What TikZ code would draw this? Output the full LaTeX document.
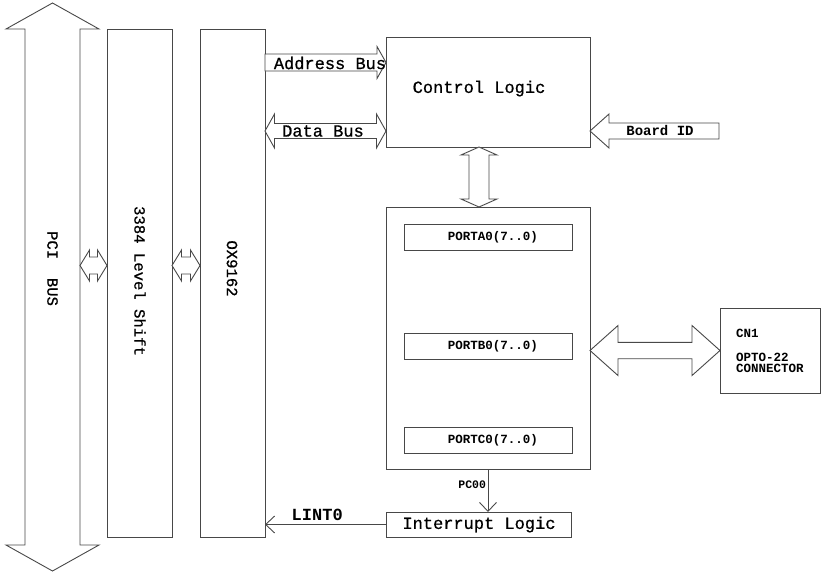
\documentclass[tikz,border=0pt]{standalone}
\usepackage{fontspec}
\setmainfont{Liberation Mono}
\newfontfamily\medfont[FakeBold=0.8]{Liberation Mono}
\usetikzlibrary{arrows.meta,calc}
\definecolor{linegray}{HTML}{484848}

\begin{document}
\begin{tikzpicture}[x=1pt,y=-1pt,
  box/.style={draw=linegray,line width=0.9pt,inner sep=0pt,outer sep=0pt},
  fat/.style={draw=linegray,line width=0.9pt,fill=white,line join=miter},
  fshaft/.store in=\fshaft, fhead/.store in=\fhead, flen/.store in=\flen,
  dblarr/.style={to path={
    (\tikztostart)
    -- ($(\tikztostart)!\flen!(\tikztotarget)!\fhead!90:(\tikztotarget)$)
    -- ($(\tikztostart)!\flen!(\tikztotarget)!\fshaft!90:(\tikztotarget)$)
    -- ($(\tikztotarget)!\flen!(\tikztostart)!\fshaft!-90:(\tikztostart)$)
    -- ($(\tikztotarget)!\flen!(\tikztostart)!\fhead!-90:(\tikztostart)$)
    -- (\tikztotarget)
    -- ($(\tikztotarget)!\flen!(\tikztostart)!\fhead!90:(\tikztostart)$)
    -- ($(\tikztotarget)!\flen!(\tikztostart)!\fshaft!90:(\tikztostart)$)
    -- ($(\tikztostart)!\flen!(\tikztotarget)!\fshaft!-90:(\tikztotarget)$)
    -- ($(\tikztostart)!\flen!(\tikztotarget)!\fhead!-90:(\tikztotarget)$)
    -- cycle}},
  onearr/.style={to path={
    ($(\tikztostart)!\fshaft!90:(\tikztotarget)$)
    -- ($(\tikztotarget)!\flen!(\tikztostart)!\fshaft!-90:(\tikztostart)$)
    -- ($(\tikztotarget)!\flen!(\tikztostart)!\fhead!-90:(\tikztostart)$)
    -- (\tikztotarget)
    -- ($(\tikztotarget)!\flen!(\tikztostart)!\fhead!90:(\tikztostart)$)
    -- ($(\tikztotarget)!\flen!(\tikztostart)!\fshaft!90:(\tikztostart)$)
    -- ($(\tikztostart)!\fshaft!-90:(\tikztotarget)$)
    -- cycle}},
  arr/.style={-{Straight Barb[length=9pt,width=17pt]},draw=linegray,line width=0.9pt},
  bigtxt/.style={font=\medfont\fontsize{17}{20}\selectfont},
  vtxt/.style={font=\medfont\fontsize{15.6}{18}\selectfont,rotate=-90},
  smalltxt/.style={font=\fontsize{12.5}{11}\selectfont\bfseries}
]
  \useasboundingbox (0,0) rectangle (823,574);

  % ---- Bus columns -------------------------------------------
  \node[box,minimum width=65pt,minimum height=508pt] (lvl) at (139.5,283) {};
  \node[box,minimum width=65pt,minimum height=508pt] (ox) at (232.5,283) {};

  % PCI bus arrow
  \coordinate (pcitop) at (52.5,3);
  \coordinate (pcibot) at (52.5,571);
  \draw[fat,dblarr,fshaft=27.5pt,fhead=46.5pt,flen=26pt] (pcitop) to (pcibot);

  % links between the columns
  \coordinate (s1L) at (80,265.5);
  \coordinate (s1R) at (lvl.west |- s1L);
  \coordinate (s2L) at (lvl.east |- s1L);
  \coordinate (s2R) at (ox.west |- s1L);
  \draw[fat,dblarr,fshaft=8.5pt,fhead=15.5pt,flen=9.5pt] (s1L) to (s1R);
  \draw[fat,dblarr,fshaft=8.5pt,fhead=15.5pt,flen=9.5pt] (s2L) to (s2R);

  \node[vtxt] (pcitxt) at (52.5,268.5) {PCI\ \ BUS};
  \node[vtxt] (lvltxt) at (140,281) {3384 Level Shift};
  \node[vtxt] (oxtxt) at (232,268.5) {OX9162};

  % ---- Control logic and ports -------------------------------
  \node[box,minimum width=204pt,minimum height=110pt] (ctrl) at (488,92) {};
  \node[bigtxt] (ctrltxt) at (479,88.5) {Control Logic};

  \node[box,minimum width=204pt,minimum height=262pt] (ports) at (488,338) {};
  \node[box,smalltxt,minimum width=168pt,minimum height=26pt] (pa) at (488,237) {\hspace*{10pt}PORTA0(7..0)};
  \node[box,smalltxt,minimum width=168pt,minimum height=26pt] (pb) at (488,346) {\hspace*{10pt}PORTB0(7..0)};
  \node[box,smalltxt,minimum width=168pt,minimum height=26pt] (pc) at (488,440) {\hspace*{10pt}PORTC0(7..0)};

  \node[box,smalltxt,minimum width=100pt,minimum height=85pt,align=left] (cn) at (770,350.5)
    {CN1\\[13pt]OPTO-22\\CONNECTOR};

  \node[box,bigtxt,minimum width=185pt,minimum height=25pt] (intr) at (479,524.5) {Interrupt Logic};

  % ---- Buses -------------------------------------------------
  % Address bus
  \coordinate (abL) at (ox.east |- 0,62.5);
  \coordinate (abR) at (ctrl.west |- abL);
  \draw[fat,onearr,fshaft=8.5pt,fhead=16pt,flen=9pt] (abL) to (abR);
  \node[bigtxt] (abtxt) at (330,63) {Address Bus};

  % Data bus
  \coordinate (dbL) at (ox.east |- 0,131);
  \coordinate (dbR) at (ctrl.west |- dbL);
  \draw[fat,dblarr,fshaft=7.5pt,fhead=17pt,flen=9.5pt] (dbL) to (dbR);
  \node[bigtxt] (dbtxt) at (323,131) {Data Bus};

  % Board ID
  \coordinate (bidtip) at (ctrl.east |- dbL);
  \coordinate (bidtail) at (719,131);
  \draw[fat,onearr,fshaft=8pt,fhead=17pt,flen=19pt] (bidtail) to (bidtip);
  \node[font=\fontsize{14}{16}\selectfont\bfseries] (bidtxt) at (660,130) {Board ID};

  % control logic to ports
  \coordinate (vtop) at ([xshift=-9pt]ctrl.south);
  \coordinate (vbot) at ([xshift=-9pt]ports.north);
  \draw[fat,dblarr,fshaft=10pt,fhead=18pt,flen=8pt] (vtop) to (vbot);

  % ports to connector
  \coordinate (pcL) at (ports.east |- cn.west);
  \draw[fat,dblarr,fshaft=8.2pt,fhead=25pt,flen=28pt] (pcL) to (cn.west);

  % ---- Interrupt path ----------------------------------------
  \draw[arr] (ports.south) --
    node[pos=0.36,left,inner sep=1.5pt,font=\fontsize{11.5}{13}\selectfont\bfseries]{PC00}
    (ports.south |- intr.north);
  \draw[arr] (intr.west) --
    node[pos=0.57,above,inner sep=3pt,font=\fontsize{17}{20}\selectfont\bfseries]{LINT0}
    (intr.west -| ox.east);

\end{tikzpicture}
\end{document}
